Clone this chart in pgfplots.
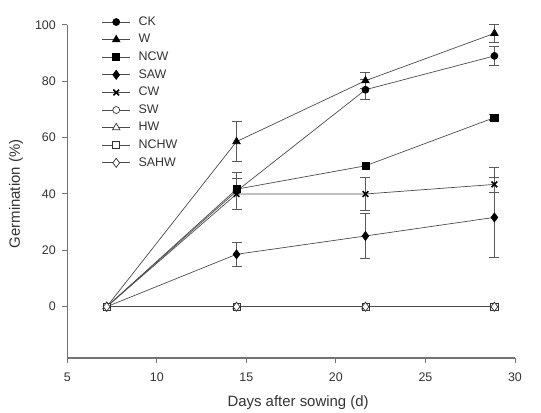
\documentclass[border=0pt]{standalone}
\usepackage{fontspec}
\setmainfont{Liberation Sans}
\usepackage{pgfplots}
\pgfplotsset{compat=1.18}
\usetikzlibrary{calc}
\begin{document}
\begin{tikzpicture}
\begin{axis}[name=ax, scale only axis, width=447.7bp, height=333.1bp,
  xmin=5, xmax=30, ymin=-18.2, ymax=100,
  axis x line*=bottom, axis y line*=left,
  axis line style={black!55, line width=1.2bp},
  xtick={5,10,...,30}, ytick={0,20,...,100},
  tick align=outside, major tick length=5bp,
  tick style={black!55, line width=1bp},
  /pgf/number format/assume math mode=true,
  ticklabel style={font=\fontsize{12.5}{15}\selectfont, text=black!80},
  xticklabel style={yshift=-6bp},
  yticklabel style={xshift=-3bp},
  every axis x label/.style={at={(axis description cs:0.5156,0)}, anchor=center, yshift=-45bp},
  every axis y label/.style={at={(axis description cs:-0.1146,0.4925)}, rotate=90, anchor=center},
  label style={font=\fontsize{15}{18}\selectfont, text=black!80},
  xlabel={Days after sowing (d)},
  ylabel={Germination (\%)},
  legend cell align=left,
  legend style={draw=none, fill=none, at={(axis description cs:0.0768,1.0265)}, anchor=north west,
    inner sep=0pt, font=\fontsize{12.5}{15}\selectfont, text=black!80,
    nodes={inner sep=0pt, text height=9bp, text depth=2.5bp},
    row sep=6.1bp, /tikz/every odd column/.append style={column sep=8bp}},
  legend image code/.code={\draw[mark repeat=2, mark phase=2, #1] plot coordinates {(0bp,0bp) (14bp,0bp) (28bp,0bp)};},
  every axis plot/.append style={black!70, line width=0.7bp, mark options={solid, line width=0.7bp}},
]
% error bars
\addplot[draw=none, forget plot, black!70, error bars/.cd, y dir=both, y explicit,
  error mark options={rotate=90, mark size=5bp, line width=0.8bp, black!65}, error bar style={line width=0.8bp, black!65}]
  coordinates {
  (14.45,41) +- (0,6.5) (21.65,77) +- (0,3.6) (28.85,89) +- (0,3.4)
  (14.45,58.6) +- (0,7.2) (21.65,80.2) +- (0,2.8) (28.85,97) +- (0,3.2)
  (28.85,67.1) +- (0,1)
  (14.45,18.6) +- (0,4.2) (21.65,25.1) +- (0,7.9) (28.85,31.7) +- (0,14.2)
  (14.45,40) +- (0,5.5) (21.65,40) +- (0,5.8) (28.85,43.4) += (0,5.9) -= (0,2.9)
  };
% CK
\addplot[mark=*, mark size=3.5bp, mark options={fill=black, draw=black}] coordinates {(7.2,0) (14.45,41) (21.65,77) (28.85,89)};
\addlegendentry{CK}
% W
\addplot[mark=triangle*, mark size=4.3bp, mark options={fill=black, draw=black}] coordinates {(7.2,0) (14.45,58.6) (21.65,80.2) (28.85,97)};
\addlegendentry{W}
% NCW
\addplot[mark=square*, mark size=3.6bp, mark options={fill=black, draw=black}] coordinates {(7.2,0) (14.45,41.7) (21.65,50) (28.85,67.1)};
\addlegendentry{NCW}
% SAW
\addplot[mark=diamond*, mark size=4.5bp, mark options={fill=black, draw=black}] coordinates {(7.2,0) (14.45,18.6) (21.65,25.1) (28.85,31.7)};
\addlegendentry{SAW}
% CW
\addplot[mark=x, mark size=4bp, mark options={line width=1.6bp, black}] coordinates {(7.2,0) (14.45,40) (21.65,40) (28.85,43.4)};
\addlegendentry{CW}
% SW
\addplot[mark=*, mark size=3.5bp, mark options={fill=white, draw=black!80}] coordinates {(7.2,0) (14.45,0) (21.65,0) (28.85,0)};
\addlegendentry{SW}
% HW
\addplot[mark=triangle*, mark size=4.3bp, mark options={fill=white, draw=black!80}] coordinates {(7.2,0) (14.45,0) (21.65,0) (28.85,0)};
\addlegendentry{HW}
% NCHW
\addplot[mark=square*, mark size=3.6bp, mark options={fill=white, draw=black!80}] coordinates {(7.2,0) (14.45,0) (21.65,0) (28.85,0)};
\addlegendentry{NCHW}
% SAHW
\addplot[mark=diamond*, mark size=4.5bp, mark options={fill=white, draw=black!80}] coordinates {(7.2,0) (14.45,0) (21.65,0) (28.85,0)};
\addlegendentry{SAHW}
\end{axis}
\pgfresetboundingbox
\path[use as bounding box] ($(ax.south west)+(-67.3bp,-55bp)$) rectangle ($(ax.north east)+(26bp,24.9bp)$);
\end{tikzpicture}
\end{document}
